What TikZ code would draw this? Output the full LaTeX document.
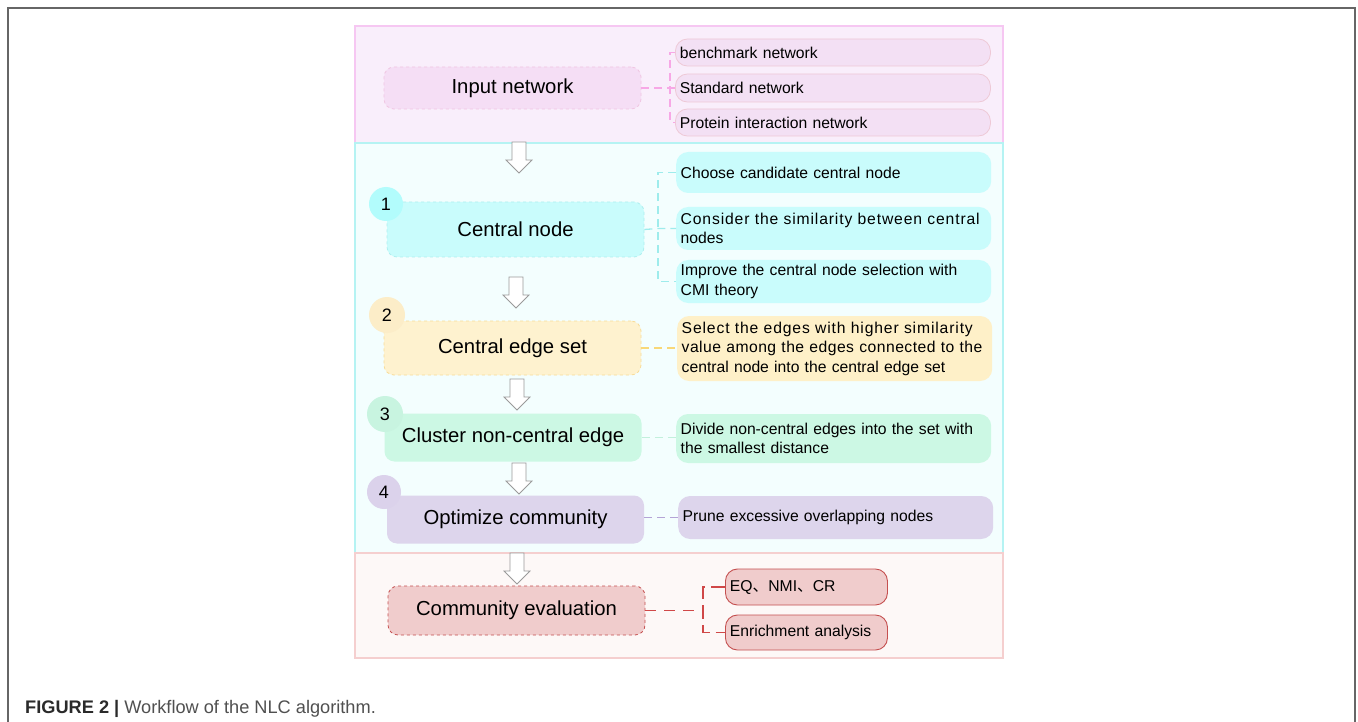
\documentclass[tikz,border=0pt]{standalone}
\usepackage{fontspec}
\setmainfont{Liberation Sans}
\newfontfamily\cjkfont{Noto Sans CJK SC}
\usetikzlibrary{calc}
\newcommand\fullline[2]{\leavevmode\hbox to 306pt{\addfontfeature{LetterSpace=#1}#2}}
\definecolor{framegray}{HTML}{666666}
\definecolor{arrowgray}{HTML}{9A9A9A}
\definecolor{pinkpanel}{HTML}{F9EEFB}
\definecolor{pinkpanelborder}{HTML}{F6C7F2}
\definecolor{pinkbox}{HTML}{F5DEF5}
\definecolor{pinkboxborder}{HTML}{F0C6E2}
\definecolor{pinkitem}{HTML}{F3E0F4}
\definecolor{pinkitemborder}{HTML}{EEC9D6}
\definecolor{pinkline}{HTML}{F7A8E6}
\definecolor{cyanpanel}{HTML}{F3FEFE}
\definecolor{cyanpanelborder}{HTML}{B5F3F3}
\definecolor{cyanbox}{HTML}{C9FCFC}
\definecolor{cyanboxborder}{HTML}{AEEFEF}
\definecolor{cyancircle}{HTML}{B2FCFC}
\definecolor{cyanline}{HTML}{9EECEC}
\definecolor{yellowbox}{HTML}{FEF2CF}
\definecolor{yellowitem}{HTML}{FEF0C8}
\definecolor{yellowborder}{HTML}{F8DC98}
\definecolor{yellowcircle}{HTML}{FCEDC8}
\definecolor{yellowline}{HTML}{F8D878}
\definecolor{greenbox}{HTML}{CCF8E4}
\definecolor{greencircle}{HTML}{C8F4E0}
\definecolor{greenline}{HTML}{C2F0DC}
\definecolor{lavbox}{HTML}{DDD5EC}
\definecolor{lavcircle}{HTML}{DBD2EB}
\definecolor{lavline}{HTML}{B4A4D6}
\definecolor{salmonpanel}{HTML}{FDF8F7}
\definecolor{salmonpanelborder}{HTML}{F5CFCF}
\definecolor{redbox}{HTML}{F0CCCC}
\definecolor{redborder}{HTML}{C55050}
\definecolor{redline}{HTML}{D04848}
\definecolor{captiondark}{HTML}{2A2A2A}
\definecolor{captiongray}{HTML}{505050}
\begin{document}
\begin{tikzpicture}[x=1pt,y=-1pt,
  mainbox/.style={rectangle, rounded corners=10pt, minimum width=257pt, inner sep=2pt,
    font=\fontsize{20.3}{24}\selectfont, text=black, line width=0.8pt},
  itembox/.style={rectangle, rounded corners=12pt, anchor=west, minimum width=315pt,
    text width=306pt, inner xsep=4.5pt, inner ysep=2pt, align=left,
    font=\fontsize{15.7}{19.5}\selectfont, text=black},
  numcircle/.style={circle, inner sep=0pt, font=\fontsize{18}{20}\selectfont, text=black},
  conn/.style={line width=1.3pt, dash pattern=on 8pt off 5pt},
  panel/.style={line width=1.5pt},
  hollowarrow/.pic={\draw[arrowgray, fill=white, line width=0.8pt]
    (-7,0) -- (-7,18) -- (-13,18) -- (0,31) -- (13,18) -- (7,18) -- (7,0) -- cycle;}
]
\useasboundingbox (0,0) rectangle (1358,722);
\fill[white] (0,0) rectangle (1358,722);
% outer frame
\draw[framegray, line width=1.3pt] (8,722) -- (8,8) -- (1355,8) -- (1355,722);

% panels
\draw[panel, draw=pinkpanelborder, fill=pinkpanel] (355,26) rectangle (1003,143);
\draw[panel, draw=cyanpanelborder, fill=cyanpanel] (355,143) rectangle (1003,553);
\draw[panel, draw=salmonpanelborder, fill=salmonpanel] (355,553) rectangle (1003,658);

% ---- input network
\node[mainbox, fill=pinkbox, draw=pinkboxborder, dashed, minimum height=42pt] (in) at (512.5,88) {Input network};
\node[itembox, fill=pinkitem, draw=pinkitemborder, line width=0.8pt, minimum height=27pt] (b1) at (675,52.5) {benchmark network};
\node[itembox, fill=pinkitem, draw=pinkitemborder, line width=0.8pt, minimum height=28pt] (b2) at (675,88) {Standard network};
\node[itembox, fill=pinkitem, draw=pinkitemborder, line width=0.8pt, minimum height=27pt] (b3) at (675,122.5) {Protein interaction network};
\coordinate (jin) at (670,88);
\draw[conn, pinkline] (in.east) -- (jin) -- (b2.west);
\draw[conn, pinkline] (b1.west) -| (jin) |- (b3.west);

% ---- step 1
\node[mainbox, fill=cyanbox, draw=cyanboxborder, dashed, minimum height=55pt] (cn) at (515.5,229.5) {Central node};
\node[itembox, fill=cyanbox, minimum height=41pt] (c1) at (676,172.5) {Choose candidate central node};
\node[itembox, fill=cyanbox, minimum height=43pt] (c2) at (676,228.5) {\fullline{5.5}{Consider the similarity between central}\\nodes};
\node[itembox, fill=cyanbox, minimum height=43pt] (c3) at (676,281.5) {Improve the central node selection with\\CMI theory};
\coordinate (jcn) at (658,228.5);
\draw[conn, cyanline] (cn.east) -- (jcn) -- (c2.west);
\draw[conn, cyanline] (c1.west) -| (jcn) |- (c3.west);
\node[numcircle, fill=cyancircle, minimum size=34pt] (n1) at (386,204) {1};

% ---- step 2
\node[mainbox, fill=yellowbox, draw=yellowborder, dashed, minimum height=54pt] (ce) at (512.5,348) {Central edge set};
\node[itembox, fill=yellowitem, minimum height=65pt] (y1) at (677,348.5) {\fullline{5.5}{Select the edges with higher similarity}\\\fullline{3}{value among the edges connected to the}\\central node into the central edge set};
\draw[conn, yellowline] (ce.east) -- (ce.east -| y1.west);
\node[numcircle, fill=yellowcircle, minimum size=36pt] (n2) at (387,315) {2};

% ---- step 3
\node[mainbox, fill=greenbox, minimum height=48pt] (cl) at (513,437.5) {Cluster non-central edge};
\node[itembox, fill=greenbox, minimum height=49pt] (g1) at (676,438.5) {Divide non-central edges into the set with\\the smallest distance};
\draw[conn, greenline] (cl.east) -- (cl.east -| g1.west);
\node[numcircle, fill=greencircle, minimum size=36pt] (n3) at (385,414) {3};

% ---- step 4
\node[mainbox, fill=lavbox, minimum height=48pt] (oc) at (515.5,519.5) {Optimize community};
\node[itembox, fill=lavbox, minimum height=43pt] (p1) at (678,517.5) {Prune excessive overlapping nodes};
\draw[conn, lavline] (oc.east |- p1.west) -- (p1.west);
\node[numcircle, fill=lavcircle, minimum size=34pt] (n4) at (384,492) {4};

% ---- evaluation
\node[mainbox, fill=redbox, draw=redborder, dashed, minimum height=49pt] (ev) at (516.5,610.5) {Community evaluation};
\node[itembox, fill=redbox, draw=redborder, line width=0.9pt, minimum width=162pt, text width=153pt, minimum height=36pt] (r1) at (725,587) {EQ{\cjkfont 、}NMI{\cjkfont 、}CR};
\node[itembox, fill=redbox, draw=redborder, line width=0.9pt, minimum width=162pt, text width=153pt, minimum height=35pt] (r2) at (725,632.5) {Enrichment analysis};
\coordinate (jev) at (703,610.5);
\draw[redline, line width=1.3pt, dash pattern=on 11pt off 8pt] (ev.east) -- (jev);
\draw[redline, line width=1.3pt, dash pattern=on 14pt off 6pt] (r1.west) -| (jev) |- (r2.west);

% ---- hollow arrows
\pic at (519,142) {hollowarrow};
\pic at (516,277) {hollowarrow};
\pic at (517,379) {hollowarrow};
\pic at (519,463) {hollowarrow};
\pic at (517,553) {hollowarrow};

% caption
\node[anchor=base west, inner sep=0pt, font=\fontsize{18.2}{22}\selectfont, text=captiongray] (cap) at (25,713)
  {{\bfseries\color{captiondark}FIGURE 2 |} Workflow of the NLC algorithm.};
\end{tikzpicture}
\end{document}
